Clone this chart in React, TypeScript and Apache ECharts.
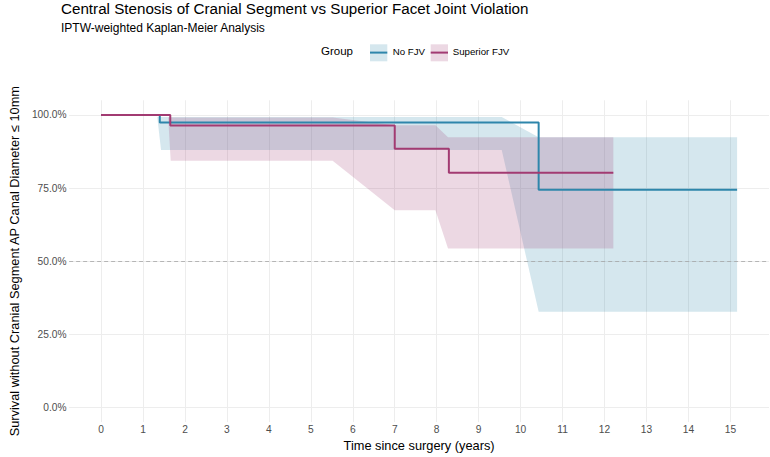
import React, { useEffect, useRef } from "react";
import * as echarts from "echarts";

const FONT = "Liberation Sans, Arial, Helvetica, sans-serif";
const BLUE = "#2E86AB";
const PINK = "#A23B72";
const BLUE_FILL = "rgba(46,134,171,0.2)";
const PINK_FILL = "rgba(162,59,114,0.2)";

const TITLE = "Central Stenosis of Cranial Segment vs Superior Facet Joint Violation";
const SUBTITLE = "IPTW-weighted Kaplan-Meier Analysis";
const X_TITLE = "Time since surgery (years)";
const Y_TITLE = "Survival without Cranial Segment AP Canal Diameter \u2264 10mm";
const LEGEND_TITLE = "Group";
const GROUPS = ["No FJV", "Superior FJV"];

const xTicks = [0, 1, 2, 3, 4, 5, 6, 7, 8, 9, 10, 11, 12, 13, 14, 15];
const yTicks = [0, 25, 50, 75, 100];
const refLine = 50;

// Kaplan-Meier step curves (time in years, survival in %)
const noFjvTime = [0, 1.4, 10.43, 15.16];
const noFjvSurv = [100, 97.4, 74.4, 74.4];
const supTime = [0, 1.65, 7.0, 8.29, 12.21];
const supSurv = [100, 96.4, 88.4, 80.2, 80.2];

// Confidence ribbons
const noFjvCiTime = [1.34, 1.43, 9.55, 10.43, 15.16];
const noFjvLower = [99.3, 88.0, 88.0, 32.7, 32.7];
const noFjvUpper = [99.3, 99.3, 99.3, 92.4, 92.4];
const supCiTime = [1.6, 1.66, 5.52, 7.0, 7.97, 8.27, 12.21];
const supLower = [99.1, 84.3, 84.3, 67.4, 67.4, 54.3, 54.3];
const supUpper = [99.1, 99.1, 99.1, 96.5, 96.5, 92.4, 92.4];

function ribbon(name: string, t: number[], lo: number[], hi: number[], fill: string) {
  return {
    type: "custom",
    name,
    silent: true,
    z: 1,
    data: t.map((ti, i) => [ti, lo[i], hi[i]]),
    encode: { x: 0, y: [1, 2] },
    renderItem: (params: any, api: any) => {
      if (params.dataIndex !== 0) return null;
      const pts: number[][] = [];
      for (let i = 0; i < t.length; i++) pts.push(api.coord([t[i], hi[i]]));
      for (let i = t.length - 1; i >= 0; i--) pts.push(api.coord([t[i], lo[i]]));
      return { type: "polygon", shape: { points: pts }, style: { fill, stroke: null } };
    },
  };
}

function stepLine(name: string, t: number[], s: number[], color: string, extra: any = {}) {
  return {
    type: "line",
    name,
    step: "end",
    symbol: "none",
    z: 3,
    data: t.map((ti, i) => [ti, s[i]]),
    lineStyle: { color, width: 2 },
    itemStyle: { color },
    ...extra,
  };
}

export default function App() {
  const ref = useRef<HTMLDivElement>(null);
  useEffect(() => {
    if (!ref.current) return;
    const chart = echarts.init(ref.current, null, { renderer: "svg" });
    const gridColor = "#EDEDED";
    const option: any = {
      animation: false,
      backgroundColor: "#fff",
      textStyle: { fontFamily: FONT },
      title: [
        {
          text: TITLE,
          left: 61,
          top: 1,
          padding: 0,
          textStyle: { fontSize: 15.2, fontWeight: "normal", color: "#000", fontFamily: FONT },
        },
        {
          text: SUBTITLE,
          left: 61,
          top: 22,
          padding: 0,
          textStyle: { fontSize: 12, fontWeight: "normal", color: "#000", fontFamily: FONT },
        },
      ],
      grid: { left: 61, top: 100.3, width: 708, height: 322.7, containLabel: false },
      xAxis: {
        type: "value",
        min: -0.76,
        max: 15.92,
        name: X_TITLE,
        nameLocation: "middle",
        nameGap: 14.6,
        nameTextStyle: { fontSize: 12.8, color: "#000", fontFamily: FONT },
        axisLine: { show: false },
        axisTick: { show: false, customValues: xTicks },
        axisLabel: {
          customValues: xTicks,
          fontSize: 10.2,
          color: "#4D4D4D",
          margin: 2,
          fontFamily: FONT,
        },
        splitLine: { show: true, lineStyle: { color: gridColor, width: 1 } },
      },
      yAxis: {
        type: "value",
        min: -5,
        max: 105,
        name: Y_TITLE,
        nameLocation: "middle",
        nameGap: 42,
        nameRotate: 90,
        nameTextStyle: { fontSize: 12.8, color: "#000", fontFamily: FONT },
        axisLine: { show: false },
        axisTick: { show: false, customValues: yTicks },
        axisLabel: {
          customValues: yTicks,
          formatter: (v: number) => v.toFixed(1) + "%",
          fontSize: 10.2,
          color: "#4D4D4D",
          margin: 2.7,
          fontFamily: FONT,
        },
        splitLine: { show: true, lineStyle: { color: gridColor, width: 1 } },
      },
      series: [
        ribbon(GROUPS[0] + " CI", noFjvCiTime, noFjvLower, noFjvUpper, BLUE_FILL),
        ribbon(GROUPS[1] + " CI", supCiTime, supLower, supUpper, PINK_FILL),
        stepLine(GROUPS[0], noFjvTime, noFjvSurv, BLUE, {
          markLine: {
            silent: true,
            symbol: ["none", "none"],
            label: { show: false },
            lineStyle: { color: "#A6A6A6", width: 0.8, type: [4, 3] },
            data: [{ yAxis: refLine }],
            z: 2,
          },
        }),
        stepLine(GROUPS[1], supTime, supSurv, PINK),
      ],
      graphic: [
        {
          type: "text",
          left: 321,
          top: 45,
          style: { text: LEGEND_TITLE, fontSize: 11.5, fill: "#000", fontFamily: FONT },
        },
        { type: "rect", shape: { x: 370, y: 44.3, width: 17.3, height: 17 }, style: { fill: BLUE_FILL } },
        { type: "line", shape: { x1: 370, y1: 52.6, x2: 387.3, y2: 52.6 }, style: { stroke: BLUE, lineWidth: 2 } },
        {
          type: "text",
          left: 392.7,
          top: 46,
          style: { text: GROUPS[0], fontSize: 9.7, fill: "#000", fontFamily: FONT },
        },
        { type: "rect", shape: { x: 430.7, y: 44.3, width: 17.3, height: 17 }, style: { fill: PINK_FILL } },
        { type: "line", shape: { x1: 430.7, y1: 52.6, x2: 448, y2: 52.6 }, style: { stroke: PINK, lineWidth: 2 } },
        {
          type: "text",
          left: 452.7,
          top: 46,
          style: { text: GROUPS[1], fontSize: 9.7, fill: "#000", fontFamily: FONT },
        },
      ],
    };
    chart.setOption(option);
    return () => chart.dispose();
  }, []);
  return (
    <div
      ref={ref}
      style={{ position: "fixed", left: 0, top: 0, width: 770, height: 457, background: "#fff" }}
    />
  );
}
